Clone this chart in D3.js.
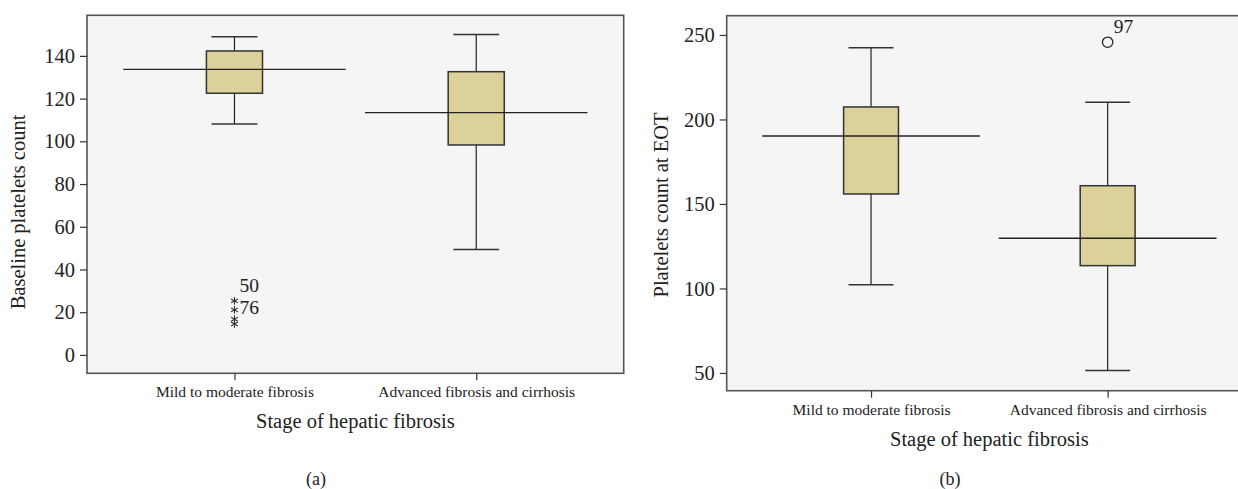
<!DOCTYPE html>
<html>
<head>
<meta charset="utf-8">
<script src="https://cdn.jsdelivr.net/npm/d3@7"></script>
<style>
  body { margin: 0; background: #fff; }
  svg text { font-family: "Liberation Serif", "DejaVu Serif", serif; fill: #222; }
  .axis path.domain { display: none; }
  .axis line { stroke: #333; stroke-width: 1.2; }
</style>
</head>
<body>
<div id="chart"></div>
<script>
var width = 1238;
var height = 489;

var categories = ["Mild to moderate fibrosis", "Advanced fibrosis and cirrhosis"];

// (a) baseline platelets count
var baseMin = [108.1, 49.3];
var baseQ1 = [122.5, 98.3];
var baseMedian = [133.7, 113.4];
var baseQ3 = [142.3, 132.6];
var baseMax = [148.9, 150.0];
var baseOutlierValues = [25.3, 21.1, 16.7, 14.5];
var baseOutlierLabels = ["50", "76", "", ""];
var baseTicks = [0, 20, 40, 60, 80, 100, 120, 140];

// (b) platelets count at EOT
var eotMin = [102.2, 51.4];
var eotQ1 = [155.9, 113.5];
var eotMedian = [190.2, 129.7];
var eotQ3 = [207.4, 160.8];
var eotMax = [242.5, 210.2];
var eotOutlierValues = [245.7];
var eotOutlierLabels = ["97"];
var eotTicks = [50, 100, 150, 200, 250];

var svg = d3.select("#chart")
            .append("svg")
            .attr("width", width)
            .attr("height", height);

function boxPanel(opt){
  var x = d3.scalePoint()
            .domain(categories)
            .range([opt.left, opt.right])
            .padding(0.61);
  var y = d3.scaleLinear()
            .domain(opt.yDomain)
            .range([opt.bottom, opt.top]);
  var step = x.step();

  var g = svg.append("g");

  g.append("rect")
   .attr("x", opt.left)
   .attr("y", opt.top)
   .attr("width", opt.right - opt.left)
   .attr("height", opt.bottom - opt.top)
   .attr("fill", "#f5f5f5")
   .attr("stroke", "#555")
   .attr("stroke-width", 1.6);

  var rows = categories.map(function(c, i){
    return {cat: c, min: opt.min[i], q1: opt.q1[i], med: opt.median[i], q3: opt.q3[i], max: opt.max[i]};
  });

  var box = g.selectAll(".box")
             .data(rows)
             .enter()
             .append("g")
             .attr("class", "box");

  // whisker stem
  box.append("line")
     .attr("x1", function(d){ return x(d.cat); })
     .attr("x2", function(d){ return x(d.cat); })
     .attr("y1", function(d){ return y(d.min); })
     .attr("y2", function(d){ return y(d.max); })
     .attr("stroke", "#222").attr("stroke-width", 1.2);

  // caps
  ["min", "max"].forEach(function(k){
    box.append("line")
       .attr("x1", function(d){ return x(d.cat) - step * 0.095; })
       .attr("x2", function(d){ return x(d.cat) + step * 0.095; })
       .attr("y1", function(d){ return y(d[k]); })
       .attr("y2", function(d){ return y(d[k]); })
       .attr("stroke", "#333").attr("stroke-width", 1.5);
  });

  box.append("rect")
     .attr("x", function(d){ return x(d.cat) - step * 0.116; })
     .attr("width", step * 0.232)
     .attr("y", function(d){ return y(d.q3); })
     .attr("height", function(d){ return y(d.q1) - y(d.q3); })
     .attr("fill", "#dcd198")
     .attr("stroke", "#333")
     .attr("stroke-width", 1.5);

  // median line (wide, as in the source)
  box.append("line")
     .attr("x1", function(d){ return x(d.cat) - step * 0.46; })
     .attr("x2", function(d){ return x(d.cat) + step * 0.46; })
     .attr("y1", function(d){ return y(d.med); })
     .attr("y2", function(d){ return y(d.med); })
     .attr("stroke", "#222").attr("stroke-width", 1.3);

  // outliers
  var out = opt.outliers.map(function(v, i){
    return {cat: categories[opt.outlierCat], v: v, label: opt.outlierLabels[i]};
  });

  if (opt.marker === "asterisk") {
    g.selectAll(".out")
     .data(out)
     .enter()
     .append("path")
     .attr("d", d3.symbol().type(d3.symbolAsterisk).size(42))
     .attr("transform", function(d){ return "translate(" + x(d.cat) + "," + y(d.v) + ")"; })
     .attr("fill", "none")
     .attr("stroke", "#333")
     .attr("stroke-width", 1.1);
  } else {
    g.selectAll(".out")
     .data(out)
     .enter()
     .append("circle")
     .attr("cx", function(d){ return x(d.cat); })
     .attr("cy", function(d){ return y(d.v); })
     .attr("r", 5.2)
     .attr("fill", "none")
     .attr("stroke", "#222")
     .attr("stroke-width", 1.3);
  }

  g.selectAll(".outLabel")
   .data(out.filter(function(d){ return d.label; }))
   .enter()
   .append("text")
   .attr("x", function(d){ return x(d.cat) + opt.labelDx; })
   .attr("y", function(d, i){ return y(d.v) + opt.labelDy[i]; })
   .style("font-size", "19.5px")
   .text(function(d){ return d.label; });

  var yAxis = d3.axisLeft(y)
                .tickValues(opt.ticks)
                .tickSize(7)
                .tickPadding(5);
  g.append("g")
   .attr("class", "axis")
   .attr("transform", "translate(" + opt.left + ",0)")
   .call(yAxis)
   .selectAll("text")
   .style("font-size", "20.5px");

  var xAxis = d3.axisBottom(x)
                .tickSize(7)
                .tickPadding(6);
  g.append("g")
   .attr("class", "axis")
   .attr("transform", "translate(0," + opt.bottom + ")")
   .call(xAxis)
   .selectAll("text")
   .style("font-size", "15.5px");

  var mid = (x(categories[0]) + x(categories[1])) / 2;
  g.append("text")
   .attr("x", mid)
   .attr("y", opt.bottom + 55)
   .attr("text-anchor", "middle")
   .style("font-size", "20.5px")
   .text("Stage of hepatic fibrosis");

  g.append("text")
   .attr("transform", "translate(" + opt.yTitleX + "," + opt.yTitleY + ") rotate(-90)")
   .attr("text-anchor", "middle")
   .style("font-size", "20.5px")
   .text(opt.yTitle);

  g.append("text")
   .attr("x", opt.panelX)
   .attr("y", 485)
   .attr("text-anchor", "middle")
   .style("font-size", "18px")
   .text(opt.panel);
}

boxPanel({
  left: 87, right: 623.7, top: 15.3, bottom: 373.3,
  yDomain: [-8.6, 159], ticks: baseTicks,
  min: baseMin, q1: baseQ1, median: baseMedian, q3: baseQ3, max: baseMax,
  outliers: baseOutlierValues, outlierLabels: baseOutlierLabels, outlierCat: 0,
  marker: "asterisk", labelDx: 5, labelDy: [-9, 4],
  yTitle: "Baseline platelets count", yTitleX: 25, yTitleY: 212,
  panel: "(a)", panelX: 316
});

boxPanel({
  left: 726.7, right: 1252, top: 15.7, bottom: 390.7,
  yDomain: [39.5, 261.4], ticks: eotTicks,
  min: eotMin, q1: eotQ1, median: eotMedian, q3: eotQ3, max: eotMax,
  outliers: eotOutlierValues, outlierLabels: eotOutlierLabels, outlierCat: 1,
  marker: "circle", labelDx: 6, labelDy: [-9],
  yTitle: "Platelets count at EOT", yTitleX: 668, yTitleY: 205,
  panel: "(b)", panelX: 950
});
</script>
</body>
</html>
